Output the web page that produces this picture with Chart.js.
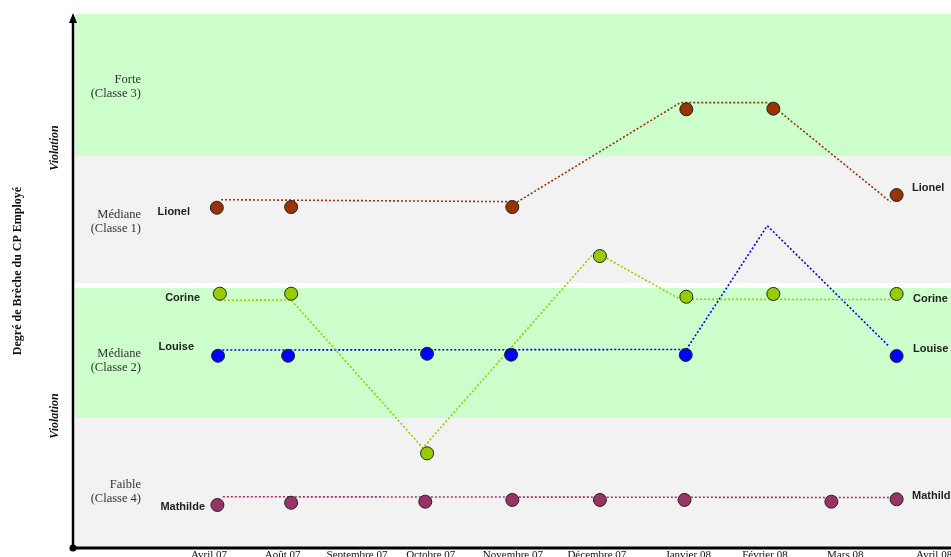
<!DOCTYPE html>
<html>
<head>
<meta charset="utf-8">
<script src="https://cdn.jsdelivr.net/npm/chart.js@4/dist/chart.umd.min.js"></script>
<style>
  html, body { margin: 0; padding: 0; background: #fff; }
  #wrap { width: 951px; height: 557px; position: relative; }
</style>
</head>
<body>
<div id="wrap"><canvas id="myChart"></canvas></div>
<script>
// x : mois (Avril 07 = 0), y : degré de brèche (0..4)
const tickLabels = ["Avril 07", "Août 07", "Septembre 07", "Octobre 07", "Novembre 07",
  "Décembre 07", "Janvier 08", "Février 08", "Mars 08", "Avril 08"];
const tickPos = [0, 1.22, 2.45, 3.67, 5.03, 6.42, 7.93, 9.2, 10.53, 12];

const classes = [
  ["Faible", "(Classe 4)"],
  ["Médiane", "(Classe 2)"],
  ["Médiane", "(Classe 1)"],
  ["Forte", "(Classe 3)"]
];
// bandes : de / à (unités y)
const bandFrom = [0, 0.974, 1.985, 2.936];
const bandTo = [0.974, 1.948, 2.936, 4];
const bandColors = ["#f2f2f2", "#ccffcc", "#f2f2f2", "#ccffcc"];

const names = ["Lionel", "Corine", "Louise", "Mathilde"];
const colors = ["#993300", "#99cc00", "#0000ff", "#993366"];

// points
const lionelX = [0.13, 1.36, 5.02, 7.9, 9.34, 11.38];
const lionelY = [2.549, 2.554, 2.554, 3.286, 3.291, 2.644];
const corineX = [0.18, 1.36, 3.61, 6.47, 7.9, 9.34, 11.38];
const corineY = [1.905, 1.905, 0.709, 2.187, 1.882, 1.903, 1.903];
const louiseX = [0.15, 1.31, 3.61, 5.0, 7.89, 11.38];
const louiseY = [1.44, 1.44, 1.455, 1.448, 1.446, 1.438];
const mathildeX = [0.14, 1.36, 3.58, 5.02, 6.47, 7.87, 10.3, 11.38];
const mathildeY = [0.322, 0.339, 0.347, 0.36, 0.36, 0.36, 0.347, 0.365];

// tracés pointillés
const lionelLineX = [0.2, 5.11, 7.8, 9.26, 11.28];
const lionelLineY = [2.609, 2.594, 3.336, 3.336, 2.592];
const corineLineX = [0.18, 1.36, 3.54, 6.39, 7.8, 11.32];
const corineLineY = [1.855, 1.858, 0.749, 2.219, 1.863, 1.861];
const louiseLineX = [0.22, 7.9, 9.24, 11.26];
const louiseLineY = [1.483, 1.487, 2.414, 1.508];
const mathildeLineX = [0.23, 11.32];
const mathildeLineY = [0.384, 0.378];

const ptsX = [lionelX, corineX, louiseX, mathildeX];
const ptsY = [lionelY, corineY, louiseY, mathildeY];
const lnX = [lionelLineX, corineLineX, louiseLineX, mathildeLineX];
const lnY = [lionelLineY, corineLineY, louiseLineY, mathildeLineY];

function zip(xs, ys) { return xs.map((x, i) => ({ x: x, y: ys[i] })); }

let datasets = [];
for (let i = 0; i < names.length; i++) {
  datasets.push({
    label: names[i] + " (tracé)",
    data: zip(lnX[i], lnY[i]),
    showLine: true,
    borderColor: colors[i],
    borderWidth: 1.6,
    borderDash: [2, 2],
    pointRadius: 0,
    order: 2
  });
  datasets.push({
    label: names[i],
    data: zip(ptsX[i], ptsY[i]),
    showLine: false,
    backgroundColor: colors[i],
    borderColor: "#222",
    borderWidth: 1,
    pointRadius: 6.5,
    order: 1
  });
}

// étiquettes (texte seulement)
const leftLabels = [[190, 212], [200, 298], [194, 347], [205, 507]];
const rightLabels = [[912, 188], [913, 299], [913, 349], [912, 496]];

const decor = {
  id: "decor",
  beforeDatasetsDraw(chart) {
    const ctx = chart.ctx, a = chart.chartArea, ys = chart.scales.y;
    ctx.save();
    for (let i = 0; i < bandFrom.length; i++) {
      const top = ys.getPixelForValue(bandTo[i]);
      const bot = ys.getPixelForValue(bandFrom[i]);
      ctx.fillStyle = bandColors[i];
      ctx.fillRect(a.left + 2, top, a.right - a.left - 2, bot - top);
      // libellés de classe
      const mid = (top + bot) / 2;
      const off = [9, 8, 2, 2][i];
      ctx.fillStyle = "#333";
      ctx.font = "12.5px 'Liberation Serif', serif";
      ctx.textAlign = "right";
      ctx.textBaseline = "middle";
      ctx.fillText(classes[i][0], 141, mid + off - 7);
      ctx.fillText(classes[i][1], 141, mid + off + 7);
    }
    ctx.restore();
  },
  afterDraw(chart) {
    const ctx = chart.ctx, a = chart.chartArea, xs = chart.scales.x;
    ctx.save();
    // axes
    ctx.strokeStyle = "#000";
    ctx.fillStyle = "#000";
    ctx.lineWidth = 2.5;
    ctx.beginPath();
    ctx.moveTo(a.left, a.bottom);
    ctx.lineTo(a.left, a.top + 7);
    ctx.stroke();
    ctx.beginPath();
    ctx.moveTo(a.left, a.top - 1);
    ctx.lineTo(a.left - 4, a.top + 9);
    ctx.lineTo(a.left + 4, a.top + 9);
    ctx.closePath();
    ctx.fill();
    ctx.lineWidth = 3;
    ctx.beginPath();
    ctx.moveTo(a.left, a.bottom);
    ctx.lineTo(a.right, a.bottom);
    ctx.stroke();
    ctx.beginPath();
    ctx.arc(a.left, a.bottom, 3.5, 0, Math.PI * 2);
    ctx.fill();
    // graduations
    ctx.fillStyle = "#111";
    ctx.font = "11px 'Liberation Serif', serif";
    ctx.textAlign = "center";
    ctx.textBaseline = "alphabetic";
    tickLabels.forEach((t, i) => {
      ctx.fillText(t, xs.getPixelForValue(tickPos[i]), a.bottom + 9.5);
    });
    // noms
    ctx.font = "bold 11px 'Liberation Sans', Arial, sans-serif";
    ctx.fillStyle = "#222";
    ctx.textBaseline = "middle";
    names.forEach((n, i) => {
      ctx.textAlign = "right";
      ctx.fillText(n, leftLabels[i][0], leftLabels[i][1]);
      ctx.textAlign = "left";
      ctx.fillText(n, rightLabels[i][0], rightLabels[i][1]);
    });
    // titres verticaux
    ctx.textAlign = "center";
    ctx.textBaseline = "middle";
    ctx.fillStyle = "#111";
    ctx.font = "italic bold 12px 'Liberation Serif', serif";
    [148, 416].forEach(yc => {
      ctx.save();
      ctx.translate(55, yc);
      ctx.rotate(-Math.PI / 2);
      ctx.fillText("Violation", 0, 0);
      ctx.restore();
    });
    ctx.font = "bold 12px 'Liberation Serif', serif";
    ctx.save();
    ctx.translate(18, 271);
    ctx.rotate(-Math.PI / 2);
    ctx.fillText("Degré de Brèche du CP Employé", 0, 0);
    ctx.restore();
    ctx.restore();
  }
};

const ctx = document.getElementById("myChart").getContext("2d");
const mychart = new Chart(ctx, {
  type: "scatter",
  data: { datasets: datasets },
  options: {
    responsive: true,
    maintainAspectRatio: false,
    animation: false,
    events: [],
    layout: { autoPadding: false, padding: { left: 73, right: 0, top: 14, bottom: 9 } },
    plugins: { legend: { display: false }, tooltip: { enabled: false } },
    scales: {
      x: { type: "linear", display: false, min: -2.25, max: 12.28 },
      y: { type: "linear", display: false, min: 0, max: 4 }
    }
  },
  plugins: [decor]
});
</script>
</body>
</html>
